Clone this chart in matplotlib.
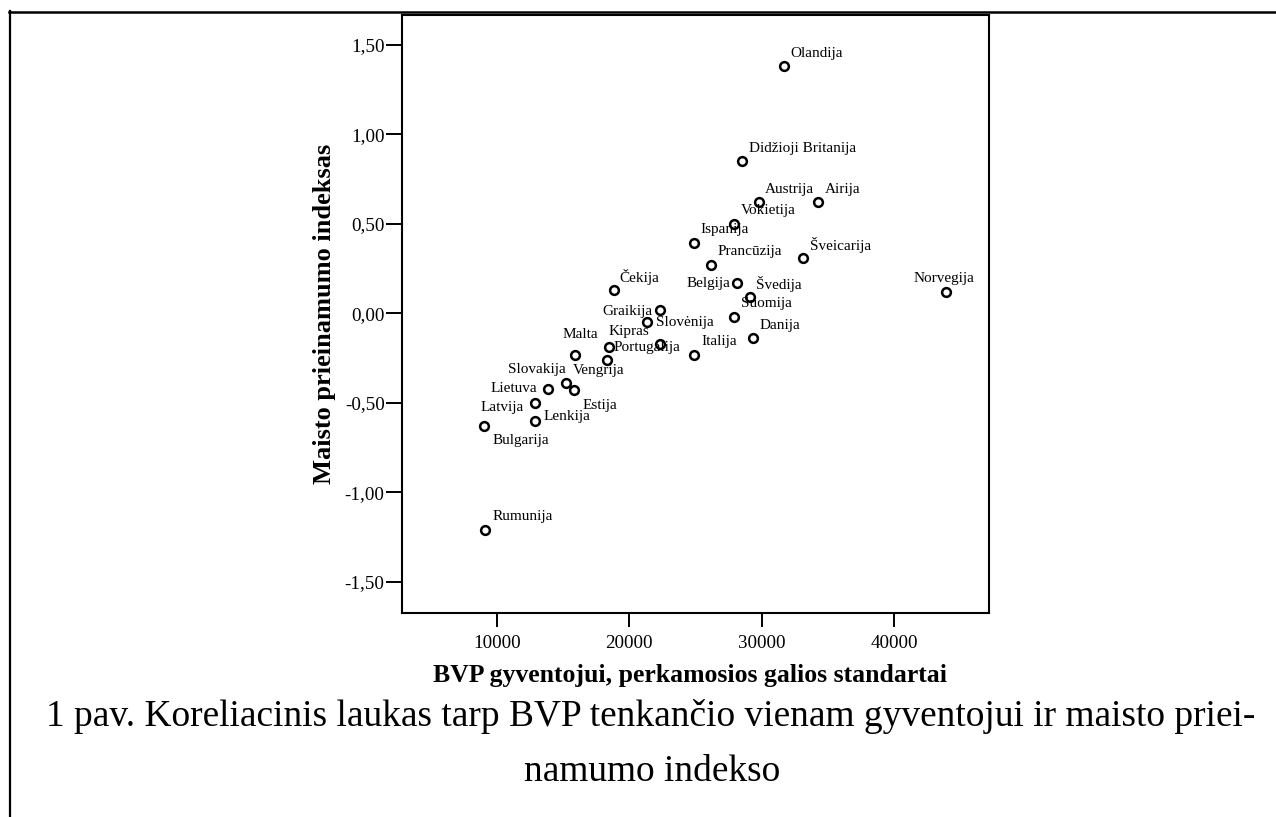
import matplotlib
matplotlib.use('Agg')
import matplotlib.pyplot as plt
from matplotlib.lines import Line2D

plt.rcParams['font.family'] = ['Liberation Serif', 'DejaVu Serif']

countries = ['Olandija', 'Didžioji Britanija', 'Austrija', 'Airija', 'Vokietija',
             'Ispanija', 'Prancūzija', 'Šveicarija', 'Čekija', 'Belgija',
             'Švedija', 'Norvegija', 'Graikija', 'Slovėnija', 'Suomija',
             'Danija', 'Kipras', 'Portugalija', 'Malta', 'Vengrija',
             'Italija', 'Slovakija', 'Lietuva', 'Estija', 'Latvija',
             'Lenkija', 'Bulgarija', 'Rumunija']
gdp = [31700, 28500, 29800, 34300, 27950,
       24900, 26200, 33150, 18850, 28130,
       29100, 43900, 22350, 21370, 27890,
       29380, 22300, 18470, 18350, 15890,
       24900, 15240, 13860, 15830, 12900,
       12900, 9070, 9130]
food_index = [1.38, 0.85, 0.62, 0.62, 0.50,
              0.39, 0.27, 0.31, 0.13, 0.17,
              0.09, 0.12, 0.02, -0.05, -0.02,
              -0.14, -0.17, -0.19, -0.26, -0.23,
              -0.23, -0.39, -0.42, -0.43, -0.50,
              -0.60, -0.63, -1.21]

x_ticks = [10000, 20000, 30000, 40000]
y_ticks = [-1.5, -1.0, -0.5, 0.0, 0.5, 1.0, 1.5]
y_tick_labels = ['-1,50', '-1,00', '-0,50', '0,00', '0,50', '1,00', '1,50']

# where each point label sits relative to its marker (pixels, horizontal alignment)
label_pos = {
    'Olandija': (6, 13, 'left'), 'Didžioji Britanija': (7, 13, 'left'),
    'Austrija': (6, 13, 'left'), 'Airija': (6, 13, 'left'),
    'Vokietija': (6, 13, 'left'), 'Ispanija': (6, 14, 'left'),
    'Prancūzija': (6, 13, 'left'), 'Šveicarija': (7, 13, 'left'),
    'Čekija': (6, 13, 'left'), 'Belgija': (-6, -1, 'right'),
    'Švedija': (6, 13, 'left'), 'Norvegija': (-2, 13, 'center'),
    'Graikija': (-8, -2, 'right'), 'Slovėnija': (9, 0, 'left'),
    'Suomija': (7, 13, 'left'), 'Danija': (6, 13, 'left'),
    'Kipras': (-10, 12, 'right'), 'Portugalija': (5, 0, 'left'),
    'Malta': (-9, 25, 'right'), 'Vengrija': (-2, -16, 'left'),
    'Italija': (7, 13, 'left'), 'Slovakija': (0, 14, 'right'),
    'Lietuva': (-11, 0, 'right'), 'Estija': (9, -15, 'left'),
    'Latvija': (-11, -5, 'right'), 'Lenkija': (8, 4, 'left'),
    'Bulgarija': (8, -14, 'left'), 'Rumunija': (7, 14, 'left'),
}

fig = plt.figure(figsize=(12.76, 8.17), dpi=100)
ax = fig.add_axes([0.3150, 0.2503, 0.4601, 0.7313])

ax.plot(gdp, food_index, linestyle='none', marker='o', markersize=6.3,
        markerfacecolor='white', markeredgecolor='black', markeredgewidth=1.8)

for name, x, y in zip(countries, gdp, food_index):
    dx, dy, ha = label_pos[name]
    ax.annotate(name, (x, y), xytext=(dx, dy), textcoords='offset pixels',
                ha=ha, va='center', fontsize=11)

ax.set_xlim(2850, 47175)
ax.set_ylim(-1.67, 1.665)
ax.set_xticks(x_ticks)
ax.set_xticklabels([str(t) for t in x_ticks])
ax.set_yticks(y_ticks)
ax.set_yticklabels(y_tick_labels)

for sp in ax.spines.values():
    sp.set_linewidth(1.5)
ax.tick_params(axis='x', length=10, width=1.4, pad=6.5, labelsize=13.7)
ax.tick_params(axis='y', length=11.5, width=1.4, pad=1, labelsize=13.7)

ax.set_xlabel('BVP gyventojui, perkamosios galios standartai',
              fontsize=18.5, fontweight='bold')
ax.xaxis.set_label_coords(0.49, -0.1165)
ax.xaxis.label.set_verticalalignment('baseline')
ax.set_ylabel('Maisto prieinamumo indeksas', fontsize=19, fontweight='bold')
ax.yaxis.set_label_coords(-0.112, 0.5)

# caption under the chart, as in the document
fig.text(46 / 1276, 1 - 726 / 817,
         '1 pav. Koreliacinis laukas tarp BVP tenkančio vienam gyventojui ir maisto priei-',
         ha='left', va='baseline', fontsize=26.9)
fig.text(652 / 1276, 1 - 781 / 817, 'namumo indekso',
         ha='center', va='baseline', fontsize=26.9)

# page frame lines (top and left)
fig.add_artist(Line2D([9 / 1276, 1.0], [1 - 12 / 817, 1 - 12 / 817],
                      transform=fig.transFigure, color='black', linewidth=1.8))
fig.add_artist(Line2D([10 / 1276, 10 / 1276], [0.0, 1 - 11 / 817],
                      transform=fig.transFigure, color='black', linewidth=1.6))

fig.savefig('out.png', dpi=100)
